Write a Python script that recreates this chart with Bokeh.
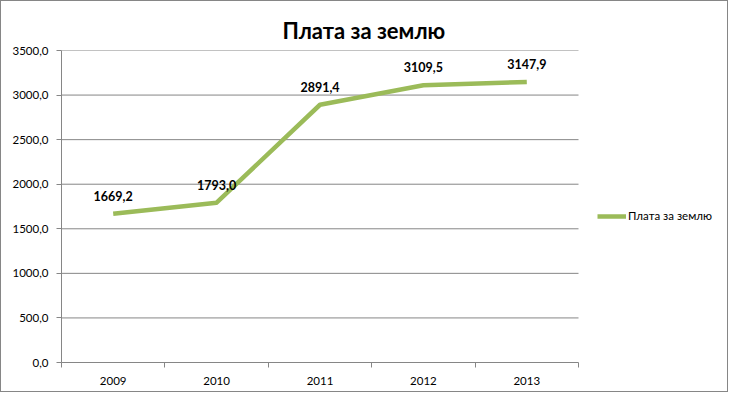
from bokeh.plotting import figure
from bokeh.models import ColumnDataSource, FixedTicker, Range1d, Legend, LegendItem
from bokeh.core.properties import value
from bokeh.embed import file_html
from bokeh.resources import INLINE

title = "Плата за землю"
series_name = "Плата за землю"
years = ["2009", "2010", "2011", "2012", "2013"]
values = [1669.2, 1793.0, 2891.4, 3109.5, 3147.9]
y_ticks = [0, 500, 1000, 1500, 2000, 2500, 3000, 3500]

FONT = "Lato"
GRID = "#868686"
LINE = "#9BBB59"

n = len(years)
xs = list(range(1, n + 1))
labels = [f"{v:.1f}".replace(".", ",") for v in values]
src = ColumnDataSource(dict(x=xs, y=values, lab=labels))

# plot frame spans to the right edge so the legend (drawn inside it) is not clipped
unit_px = 517 / n
frame_px = 728 - 60
x_end = 0.5 + frame_px / unit_px

p = figure(width=728, height=392, output_backend="svg", toolbar_location=None,
           x_range=Range1d(0.5, x_end), y_range=Range1d(0, 3500),
           min_border_left=60, min_border_right=0, min_border_top=49, min_border_bottom=31,
           styles={"border": "1px solid #868686"})
p.outline_line_color = None
p.background_fill_color = "white"
p.border_fill_color = "white"

p.title.text = title
p.title.align = "left"
p.title.offset = 221
p.title.text_font = FONT
p.title.text_font_size = "22px"
p.title.text_font_style = "bold"
p.title.text_color = "#000000"
p.title.standoff = 14

# x axis
p.xaxis.ticker = FixedTicker(ticks=xs, minor_ticks=[i + 0.5 for i in range(0, n + 1)])
p.xaxis.major_label_overrides = {i: y for i, y in zip(xs, years)}
p.xaxis.bounds = (0.5, n + 0.5)
p.xaxis.major_tick_out = 0
p.xaxis.major_tick_in = 0
p.xaxis.minor_tick_out = 5
p.xaxis.minor_tick_in = 0
p.xaxis.minor_tick_line_color = GRID
p.xaxis.axis_line_color = GRID
p.xaxis.major_label_standoff = 9
p.xgrid.grid_line_color = None

# y axis
p.yaxis.ticker = FixedTicker(ticks=y_ticks, minor_ticks=[])
p.yaxis.major_label_overrides = {t: f"{t:.1f}".replace(".", ",") for t in y_ticks}
p.yaxis.major_tick_out = 5
p.yaxis.major_tick_in = 0
p.yaxis.major_tick_line_color = GRID
p.yaxis.axis_line_color = GRID
p.yaxis.major_label_standoff = 8
p.ygrid.grid_line_color = None

for ax in (p.xaxis, p.yaxis):
    ax.major_label_text_font = FONT
    ax.major_label_text_font_size = "11.5px"
    ax.major_label_text_color = "#000000"

# horizontal gridlines limited to the category area
grid_y = [t for t in y_ticks if t > 0]
p.segment(x0=[0.5] * len(grid_y), x1=[n + 0.5] * len(grid_y), y0=grid_y, y1=grid_y,
          line_color=GRID, line_width=1)

r = p.line("x", "y", source=src, line_color=LINE, line_width=4.5, line_join="round")
p.text("x", "y", text="lab", source=src, text_font=value(FONT), text_font_size="12.5px",
       text_font_style="bold", text_color="#000000", text_align="center",
       text_baseline="middle", y_offset=-18)

legend = Legend(items=[LegendItem(label=series_name, renderers=[r])], location=(536, 140),
                glyph_width=29, glyph_height=12, label_standoff=2, padding=0, margin=0,
                border_line_color=None, background_fill_alpha=0,
                label_text_font=FONT, label_text_font_size="11.5px", label_text_color="#000000")
p.add_layout(legend)

open("out.html", "w").write(file_html(p, INLINE))
